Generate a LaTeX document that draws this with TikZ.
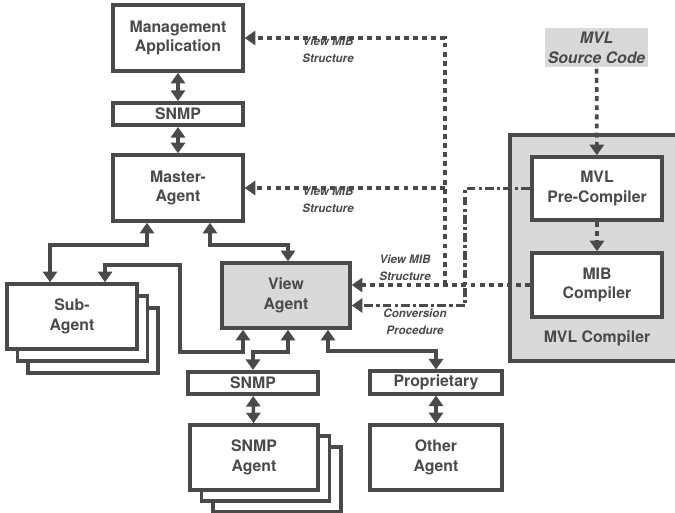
\documentclass[tikz,border=0pt]{standalone}
\usepackage{fontspec}
\setmainfont{TeX Gyre Heros}
\usetikzlibrary{arrows.meta}
\usetikzlibrary{calc}
\definecolor{ink}{HTML}{4A4A4A}
\definecolor{shade}{HTML}{D9D9D9}

\tikzset{
  box/.style={draw=ink, line width=2pt, fill=white, inner sep=0pt, align=center, text=ink,
    font=\fontsize{9}{11.3}\selectfont\bfseries},
  agent/.style={box, minimum width=2.6cm, minimum height=1.3cm},
  proto/.style={box, minimum width=2.6cm, minimum height=0.45cm},
  tip/.tip={Triangle[width=8pt,length=6pt]},
  link/.style={draw=ink, line width=2pt, tip-tip},
  dots/.style={draw=ink, line width=2.1pt, dash pattern=on 2.8pt off 2.4pt, -tip},
  dashdot/.style={draw=ink, line width=2.1pt, dash pattern=on 5pt off 1.8pt on 1.8pt off 1.8pt, -tip},
  note/.style={align=center, text=ink, inner sep=0pt, font=\fontsize{6.6}{9.5}\selectfont\bfseries\itshape}
}

\begin{document}
\begin{tikzpicture}[x=0.02cm, y=-0.02cm]
    \useasboundingbox (0,0) rectangle (675,513);

    % left column
    \node[agent, minimum height=1.32cm] (mgmt) at (178,38) {Management\\Application};
    \node[proto] (snmpa) at (178,114) {SNMP};
    \node[agent, minimum height=1.32cm] (master) at (178,188) {Master-\\Agent};

    \foreach \k in {2,1}
      \node[agent] (sub\k) at (72+10.5*\k, 316.5+12*\k) {};
    \node[agent] (sub) at (72,316.5) {Sub-\\Agent};

    \node[agent, fill=shade, minimum width=2.56cm] (view) at (286,295.5) {View\\Agent};

    \node[proto] (snmpb) at (253,383) {SNMP};
    \foreach \k in {2,1}
      \node[agent, minimum width=2.56cm] (snmpag\k) at (254+11.5*\k, 457.5+11*\k) {};
    \node[agent, minimum width=2.56cm] (snmpag) at (254,457.5) {SNMP\\Agent};

    \node[proto, minimum width=2.64cm] (prop) at (436,382.5) {Proprietary};
    \node[agent, minimum width=2.64cm] (other) at (436,457.5) {Other\\Agent};

    % compiler side
    \node[box, draw=none, fill=shade, minimum width=2.06cm, minimum height=0.78cm,
      font=\fontsize{9}{11.3}\selectfont\bfseries\itshape] (src) at (596.5,47.5) {MVL\\Source Code};
    \node[box, fill=shade, minimum width=3.52cm, minimum height=4.52cm] (mvlc) at (598,248) {};
    \node[box, draw=none, fill=none] (mvlclbl) at (597,338) {MVL Compiler};
    \node[agent, minimum height=1.26cm] (pre) at (597,188.5) {MVL\\Pre-Compiler};
    \node[agent, minimum height=1.28cm] (mib) at (597,285) {MIB\\Compiler};

    % protocol links
    \draw[link] (mgmt) -- (snmpa);
    \draw[link] (snmpa) -- (master);
    \draw[link] ($(master.south)+(-31,0)$) -- ++(0,22) -| ($(sub.north)+(-22,0)$);
    \draw[link] ($(master.south)+(32,0)$) -- ++(0,22) -| ($(view.north)+(2,0)$);
    \draw[link] ($(view.south)+(-43,0)$) -- ++(0,22) -- ++(-63,0) -- ++(0,-87) -| ($(sub.north)+(33,0)$);
    \draw[link] ($(view.south)+(2,0)$) -- ++(0,22) -| (snmpb.north);
    \draw[link] ($(view.south)+(42,0)$) -- ++(0,21) -| (prop.north);
    \draw[link] (snmpb) -- (snmpag);
    \draw[link] (prop) -- (other);

    % compiler outputs
    \coordinate (split) at (445,285);
    \draw[dots] (src) -- (pre);
    \draw[dots] (pre) -- (mib);
    \draw[dots] (mib.west) -- (mib.west -| view.east);
    \draw[dots] (split) |- (mgmt.east);
    \draw[dots] (split |- master.east) -- (master.east);
    \draw[dashdot] (pre.west) -- ++(-65,0) |- ($(view.east)+(0,10)$);

    \node[note] (vms1) at (328,50) {View MIB\\Structure};
    \node[note] (vms2) at (328,200) {View MIB\\Structure};
    \node[note] (vms3) at (405,268) {View MIB\\Structure};
    \node[note] (conv) at (415,322) {Conversion\\Procedure};
\end{tikzpicture}
\end{document}
